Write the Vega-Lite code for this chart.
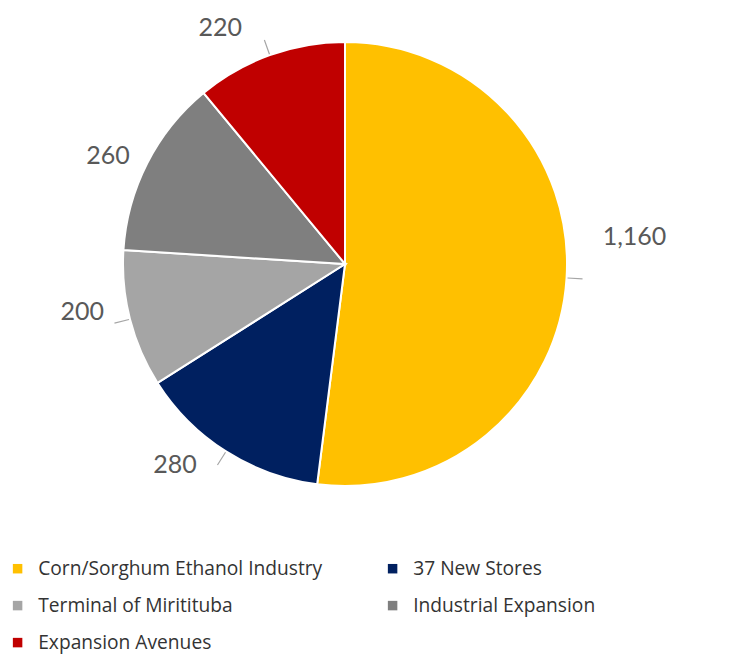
{
  "$schema": "https://vega.github.io/schema/vega-lite/v6.json",
  "width": 690,
  "height": 528,
  "autosize": {"type": "none"},
  "padding": {"left": 0, "top": 0, "right": 59, "bottom": 132},
  "background": "white",
  "config": {
    "view": {"stroke": null},
    "legend": {
      "orient": "none",
      "legendX": 8,
      "legendY": 559,
      "columns": 2,
      "columnPadding": 60,
      "rowPadding": 17,
      "symbolType": "square",
      "symbolSize": 90,
      "symbolStrokeWidth": 0,
      "labelFontSize": 19.2,
      "labelFont": "Open Sans",
      "labelColor": "#333333",
      "labelOffset": 11,
      "labelLimit": 400,
      "padding": 0
    }
  },
  "data": {
    "values": [
      {"category": "Corn/Sorghum Ethanol Industry", "value": 1160, "share": 52, "order": 1},
      {"category": "37 New Stores", "value": 280, "share": 14, "order": 2},
      {"category": "Terminal of Miritituba", "value": 200, "share": 10, "order": 3},
      {"category": "Industrial Expansion", "value": 260, "share": 13, "order": 4},
      {"category": "Expansion Avenues", "value": 220, "share": 11, "order": 5}
    ]
  },
  "layer": [
    {
      "mark": {"type": "arc", "outerRadius": 222, "stroke": "white", "strokeWidth": 2},
      "encoding": {
        "theta": {"field": "share", "type": "quantitative", "stack": true},
        "order": {"field": "order", "type": "quantitative"},
        "color": {
          "field": "category",
          "type": "nominal",
          "scale": {
            "domain": ["Corn/Sorghum Ethanol Industry", "37 New Stores", "Terminal of Miritituba", "Industrial Expansion", "Expansion Avenues"],
            "range": ["#FFC000", "#002060", "#A5A5A5", "#7F7F7F", "#C00000"]
          },
          "legend": {
            "title": null,
            "values": ["Corn/Sorghum Ethanol Industry", "Terminal of Miritituba", "Expansion Avenues", "37 New Stores", "Industrial Expansion"]
          }
        }
      }
    },
    {
      "transform": [
        {"stack": "share", "groupby": [], "sort": [{"field": "order"}], "as": ["v0", "v1"]},
        {"fold": ["v0", "v1"], "as": ["k", "pos"]},
        {"aggregate": [{"op": "mean", "field": "pos", "as": "mid"}], "groupby": ["category"]},
        {"filter": "datum.category != 'Industrial Expansion'"}
      ],
      "mark": {"type": "arc", "radius": 238, "radius2": 223, "fill": null, "stroke": "#A6A6A6", "strokeWidth": 1.2},
      "encoding": {
        "theta": {"field": "mid", "type": "quantitative"},
        "theta2": {"field": "mid"}
      }
    },
    {
      "transform": [
        {"stack": "share", "groupby": [], "sort": [{"field": "order"}], "as": ["v0", "v1"]},
        {"fold": ["v0", "v1"], "as": ["k", "pos"]},
        {"aggregate": [{"op": "mean", "field": "pos", "as": "mid"}, {"op": "max", "field": "value", "as": "value"}], "groupby": ["category"]},
        {"filter": "datum.category == 'Corn/Sorghum Ethanol Industry'"}
      ],
      "mark": {"type": "text", "radius": 265, "dx": 25, "dy": -44, "font": "Lato", "fontSize": 25, "fill": "#595959"},
      "encoding": {
        "theta": {"field": "mid", "type": "quantitative"},
        "text": {"field": "value", "type": "quantitative", "format": ","}
      }
    },
    {
      "transform": [
        {"stack": "share", "groupby": [], "sort": [{"field": "order"}], "as": ["v0", "v1"]},
        {"fold": ["v0", "v1"], "as": ["k", "pos"]},
        {"aggregate": [{"op": "mean", "field": "pos", "as": "mid"}, {"op": "max", "field": "value", "as": "value"}], "groupby": ["category"]},
        {"filter": "datum.category == '37 New Stores'"}
      ],
      "mark": {"type": "text", "radius": 265, "dx": -28, "dy": -23, "font": "Lato", "fontSize": 25, "fill": "#595959"},
      "encoding": {
        "theta": {"field": "mid", "type": "quantitative"},
        "text": {"field": "value", "type": "quantitative", "format": ","}
      }
    },
    {
      "transform": [
        {"stack": "share", "groupby": [], "sort": [{"field": "order"}], "as": ["v0", "v1"]},
        {"fold": ["v0", "v1"], "as": ["k", "pos"]},
        {"aggregate": [{"op": "mean", "field": "pos", "as": "mid"}, {"op": "max", "field": "value", "as": "value"}], "groupby": ["category"]},
        {"filter": "datum.category == 'Terminal of Miritituba'"}
      ],
      "mark": {"type": "text", "radius": 265, "dx": -6, "dy": -18, "font": "Lato", "fontSize": 25, "fill": "#595959"},
      "encoding": {
        "theta": {"field": "mid", "type": "quantitative"},
        "text": {"field": "value", "type": "quantitative", "format": ","}
      }
    },
    {
      "transform": [
        {"stack": "share", "groupby": [], "sort": [{"field": "order"}], "as": ["v0", "v1"]},
        {"fold": ["v0", "v1"], "as": ["k", "pos"]},
        {"aggregate": [{"op": "mean", "field": "pos", "as": "mid"}, {"op": "max", "field": "value", "as": "value"}], "groupby": ["category"]},
        {"filter": "datum.category == 'Industrial Expansion'"}
      ],
      "mark": {"type": "text", "radius": 265, "dx": -1, "dy": 12, "font": "Lato", "fontSize": 25, "fill": "#595959"},
      "encoding": {
        "theta": {"field": "mid", "type": "quantitative"},
        "text": {"field": "value", "type": "quantitative", "format": ","}
      }
    },
    {
      "transform": [
        {"stack": "share", "groupby": [], "sort": [{"field": "order"}], "as": ["v0", "v1"]},
        {"fold": ["v0", "v1"], "as": ["k", "pos"]},
        {"aggregate": [{"op": "mean", "field": "pos", "as": "mid"}, {"op": "max", "field": "value", "as": "value"}], "groupby": ["category"]},
        {"filter": "datum.category == 'Expansion Avenues'"}
      ],
      "mark": {"type": "text", "radius": 265, "dx": -35, "dy": 13, "font": "Lato", "fontSize": 25, "fill": "#595959"},
      "encoding": {
        "theta": {"field": "mid", "type": "quantitative"},
        "text": {"field": "value", "type": "quantitative", "format": ","}
      }
    }
  ]
}
